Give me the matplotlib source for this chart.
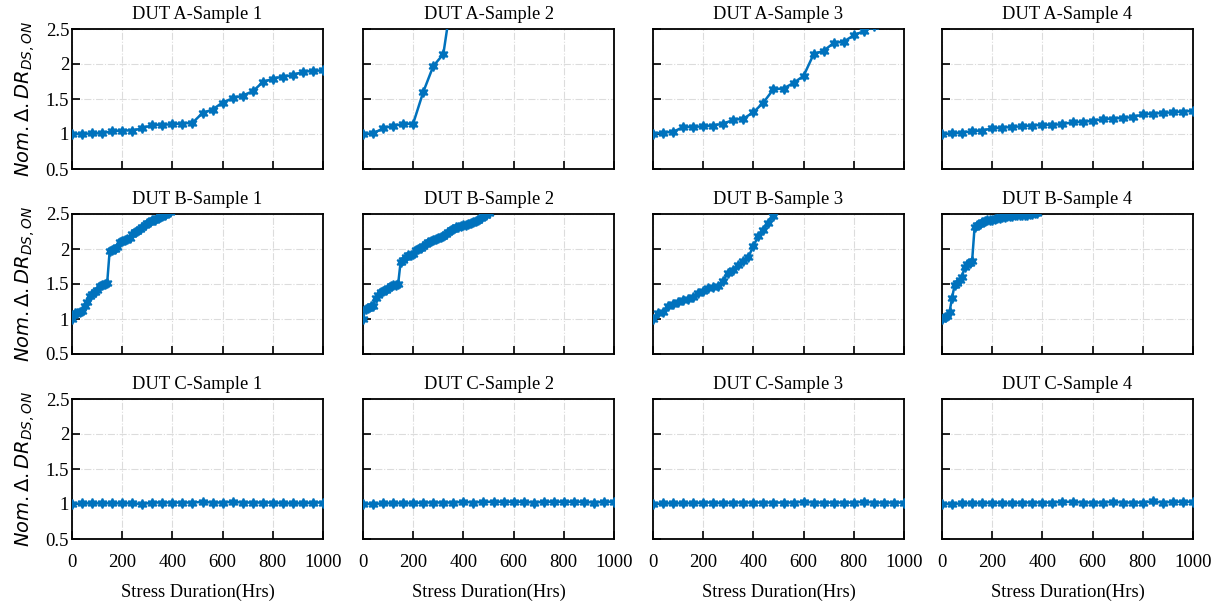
import matplotlib
matplotlib.use("Agg")
import matplotlib.pyplot as plt
import numpy as np

# ---------------- data ----------------
hrs_40 = list(range(0, 1001, 40))

a1 = [1.00, 1.00, 1.01, 1.01, 1.04, 1.05, 1.05, 1.08, 1.13, 1.13, 1.14, 1.15, 1.16,
      1.30, 1.35, 1.45, 1.51, 1.55, 1.61, 1.74, 1.79, 1.82, 1.84, 1.89, 1.90, 1.91]
a2_hrs = [0, 40, 80, 120, 160, 200, 240, 280, 320, 360]
a2 = [1.00, 1.01, 1.08, 1.12, 1.14, 1.15, 1.60, 1.97, 2.14, 3.10]
a3_hrs = list(range(0, 881, 40))
a3 = [1.00, 1.02, 1.03, 1.10, 1.10, 1.11, 1.12, 1.15, 1.20, 1.22, 1.31, 1.45, 1.64,
      1.65, 1.73, 1.83, 2.14, 2.19, 2.30, 2.32, 2.41, 2.47, 2.55]
a4 = [1.00, 1.01, 1.02, 1.04, 1.05, 1.08, 1.09, 1.10, 1.11, 1.12, 1.13, 1.13, 1.14,
      1.17, 1.17, 1.19, 1.21, 1.22, 1.23, 1.24, 1.28, 1.29, 1.30, 1.31, 1.32, 1.33]

b1_hrs = list(range(0, 391, 10))
b1 = [1.00, 1.08, 1.09, 1.10, 1.12, 1.18, 1.25, 1.33, 1.36, 1.38, 1.41, 1.47, 1.49,
      1.50, 1.51, 1.97, 1.99, 2.00, 2.03, 2.10, 2.11, 2.13, 2.14, 2.16, 2.21, 2.24,
      2.26, 2.29, 2.32, 2.35, 2.37, 2.39, 2.41, 2.42, 2.44, 2.46, 2.47, 2.49, 2.51, 2.53]
b2_hrs = list(range(0, 501, 10))
b2 = [1.00, 1.15, 1.16, 1.18, 1.19, 1.30, 1.34, 1.38, 1.40, 1.42, 1.45, 1.47, 1.48,
      1.49, 1.50, 1.82, 1.85, 1.88, 1.91, 1.92, 1.93, 1.98, 2.00, 2.02, 2.05, 2.07,
      2.10, 2.11, 2.13, 2.15, 2.16, 2.17, 2.18, 2.21, 2.24, 2.27, 2.29, 2.31, 2.32,
      2.33, 2.34, 2.35, 2.36, 2.37, 2.38, 2.40, 2.42, 2.44, 2.47, 2.49, 2.52]
b3_hrs = list(range(0, 501, 20))
b3 = [1.00, 1.08, 1.10, 1.18, 1.22, 1.24, 1.27, 1.29, 1.32, 1.37, 1.40, 1.44, 1.46,
      1.47, 1.55, 1.66, 1.70, 1.77, 1.83, 1.88, 2.05, 2.18, 2.27, 2.37, 2.47, 2.58]
b4_hrs = list(range(0, 381, 10))
b4 = [1.00, 1.03, 1.04, 1.10, 1.30, 1.48, 1.52, 1.56, 1.60, 1.75, 1.78, 1.80, 1.83,
      2.32, 2.34, 2.36, 2.38, 2.40, 2.41, 2.41, 2.42, 2.43, 2.44, 2.45, 2.46, 2.46,
      2.47, 2.47, 2.47, 2.48, 2.48, 2.48, 2.49, 2.49, 2.49, 2.50, 2.50, 2.51, 2.51]

c1 = [1.00, 1.01, 1.01, 1.01, 1.01, 1.01, 1.01, 1.00, 1.02, 1.02, 1.02, 1.02, 1.02,
      1.03, 1.02, 1.02, 1.03, 1.02, 1.02, 1.02, 1.02, 1.01, 1.01, 1.01, 1.02, 1.02]
c2 = [1.00, 1.00, 1.01, 1.01, 1.01, 1.01, 1.02, 1.02, 1.02, 1.02, 1.03, 1.02, 1.03,
      1.03, 1.03, 1.03, 1.03, 1.02, 1.03, 1.03, 1.03, 1.03, 1.03, 1.02, 1.03, 1.03]
c3 = [1.00, 1.01, 1.01, 1.01, 1.01, 1.02, 1.02, 1.01, 1.02, 1.02, 1.02, 1.02, 1.02,
      1.02, 1.02, 1.03, 1.02, 1.02, 1.02, 1.02, 1.02, 1.03, 1.02, 1.02, 1.02, 1.02]
c4 = [1.00, 1.00, 1.01, 1.01, 1.01, 1.02, 1.01, 1.01, 1.02, 1.02, 1.02, 1.02, 1.03,
      1.03, 1.02, 1.02, 1.02, 1.03, 1.02, 1.02, 1.02, 1.04, 1.02, 1.03, 1.03, 1.03]

titles = [["DUT A-Sample 1", "DUT A-Sample 2", "DUT A-Sample 3", "DUT A-Sample 4"],
          ["DUT B-Sample 1", "DUT B-Sample 2", "DUT B-Sample 3", "DUT B-Sample 4"],
          ["DUT C-Sample 1", "DUT C-Sample 2", "DUT C-Sample 3", "DUT C-Sample 4"]]
series = [[(hrs_40, a1), (a2_hrs, a2), (a3_hrs, a3), (hrs_40, a4)],
          [(b1_hrs, b1), (b2_hrs, b2), (b3_hrs, b3), (b4_hrs, b4)],
          [(hrs_40, c1), (hrs_40, c2), (hrs_40, c3), (hrs_40, c4)]]
x_ticks = [0, 200, 400, 600, 800, 1000]
y_ticks = [0.5, 1, 1.5, 2, 2.5]
y_ticklabels = ["0.5", "1", "1.5", "2", "2.5"]
x_label = "Stress Duration(Hrs)"
y_label = r"$Nom.\Delta.DR_{DS,ON}$"

# ---------------- style ----------------
plt.rcParams['font.family'] = ['Liberation Serif', 'DejaVu Serif']
plt.rcParams['mathtext.fontset'] = 'dejavusans'
W, H = 1221, 604
fig = plt.figure(figsize=(W / 100, H / 100), dpi=100)

col_left = [72, 363, 653, 942]
row_top = [29, 214, 399]
ax_w, ax_h = 251, 140
line_color = '#0072BD'

for r in range(3):
    for c in range(4):
        ax = fig.add_axes([col_left[c] / W, 1 - (row_top[r] + ax_h) / H, ax_w / W, ax_h / H])
        xs, ys = series[r][c]
        ax.plot(xs, ys, color=line_color, lw=1.8, marker=(6, 1, 0), ms=7,
                mfc=line_color, mec=line_color, mew=1.2, clip_on=True, zorder=3)
        ax.set_xlim(0, 1000)
        ax.set_ylim(0.5, 2.5)
        ax.set_xticks(x_ticks)
        ax.set_yticks(y_ticks)
        ax.grid(True, linestyle='-.', color='#dcdcdc', lw=0.8, zorder=0)
        ax.set_axisbelow(True)
        ax.tick_params(direction='in', length=6, width=1.2, labelsize=13.5,
                       top=False, right=False)
        ax.tick_params(axis='x', pad=11)
        ax.tick_params(axis='y', pad=2)
        for sp in ax.spines.values():
            sp.set_linewidth(1.3)
        ax.set_title(titles[r][c], fontsize=13.3, pad=7)
        if c == 0:
            ax.set_yticklabels(y_ticklabels)
            ax.set_ylabel(y_label, fontsize=14, labelpad=6)
        else:
            ax.set_yticklabels([])
        if r == 2:
            ax.set_xticklabels([str(t) for t in x_ticks])
            ax.set_xlabel(x_label, fontsize=13.3, labelpad=9)
        else:
            ax.set_xticklabels([])

fig.savefig("out.png", dpi=100)
